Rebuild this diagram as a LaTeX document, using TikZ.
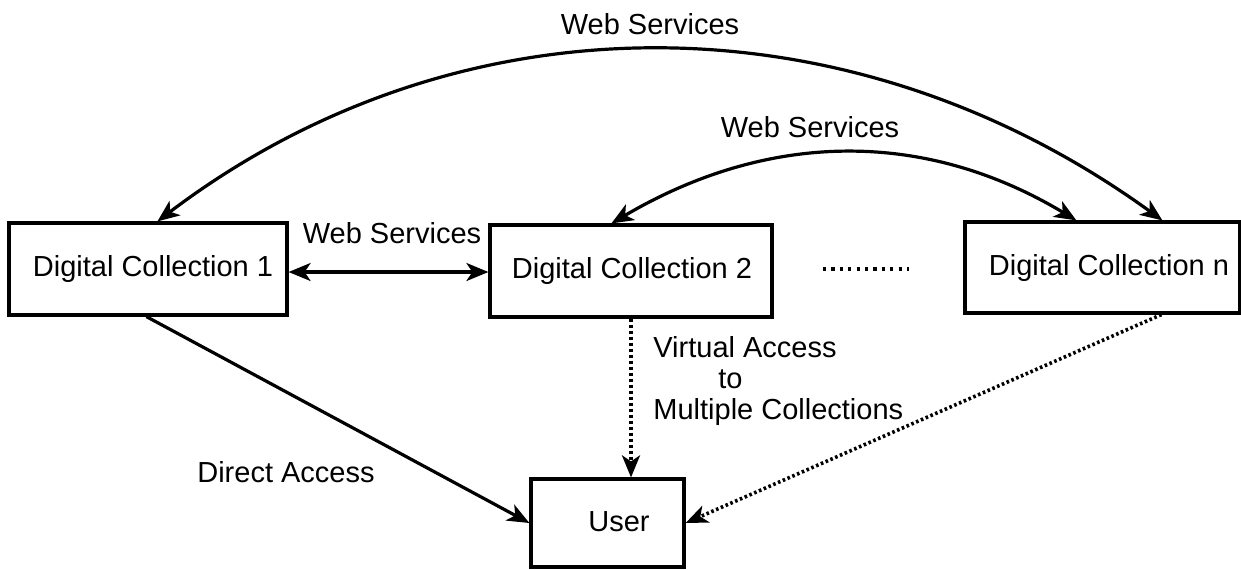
\documentclass[tikz,border=0pt]{standalone}
\usepackage{fontspec}
\setmainfont{Liberation Sans}
\usetikzlibrary{arrows.meta,calc}
\newcommand\dfont{\fontsize{14.5}{15.5}\selectfont}
\begin{document}
\begin{tikzpicture}[x=0.5pt,y=-0.5pt,
  box/.style={draw,line width=1.6pt,inner sep=0pt,fill=white},
  lbl/.style={font=\dfont,inner sep=0pt},
  conn/.style={line width=1.6pt,-{Stealth[length=11pt,width=9pt,inset=3pt]}},
  twoway/.style={line width=1.6pt,{Stealth[length=11pt,width=9pt,inset=3pt]}-{Stealth[length=11pt,width=9pt,inset=3pt]}},
  dotline/.style={line width=1.8pt,dash pattern=on 1.5pt off 1.5pt}
]
\fill[white] (0,0) rectangle (1241,569);
\useasboundingbox (0,0) rectangle (1241,569);

% boxes
\node[box,minimum width=139pt,minimum height=46pt,
  label={[lbl,xshift=2.5pt]center:Digital Collection 1}] (dc1) at (148,269) {};
\node[box,minimum width=141pt,minimum height=46pt,
  label={[lbl,xshift=0.5pt]center:Digital Collection 2}] (dc2) at (631,271) {};
\node[box,minimum width=137.5pt,minimum height=45.5pt,
  label={[lbl,xshift=3.25pt]center:Digital Collection n}] (dcn) at (1102.5,267.5) {};
\node[box,minimum width=76.5pt,minimum height=44pt,
  label={[lbl,xshift=5.75pt,yshift=0.5pt]center:User}] (user) at (607.5,523) {};

% arc end points
\coordinate (a1) at ([xshift=75pt]dc1.north west);
\coordinate (a2) at ([xshift=99.5pt]dcn.north west);
\coordinate (b1) at ([xshift=61.5pt]dc2.north west);
\coordinate (b2) at ([xshift=56.5pt]dcn.north west);
\coordinate (c1) at ([xshift=69.5pt]dc1.south west);
\coordinate (cn) at ([xshift=99pt]dcn.south west);

% connectors
\draw[twoway] (a1) .. controls (460,-8) and (850,-6) .. (a2);
\draw[twoway] (b1) .. controls (770,130) and (926,130) .. (b2);
\draw[twoway] ([yshift=-1.5pt]dc1.east) -- ([yshift=-0.5pt]dc2.west);
\draw[conn] (c1) -- (user.west);
\draw[conn,dotline] (dc2.south) -- (dc2.south |- user.north);
\draw[conn,dotline,dash pattern=on 1.3pt off 1.3pt] (cn) -- (user.east);

% dots between collections
\draw[line width=1.6pt,dash pattern=on 1.6pt off 2.6pt] (823,269) -- (909,269);

% labels
\node[lbl] (ws1) at (650,24) {Web Services};
\node[lbl] (ws2) at (810,127) {Web Services};
\node[lbl] (ws3) at (392,233) {Web Services};
\node[lbl] (da) at (286,472) {Direct Access};
\node[lbl,align=left,anchor=west] (va) at (653,381)
  {Virtual Access\\\hspace*{32.5pt}to\\Multiple Collections};
\end{tikzpicture}
\end{document}
